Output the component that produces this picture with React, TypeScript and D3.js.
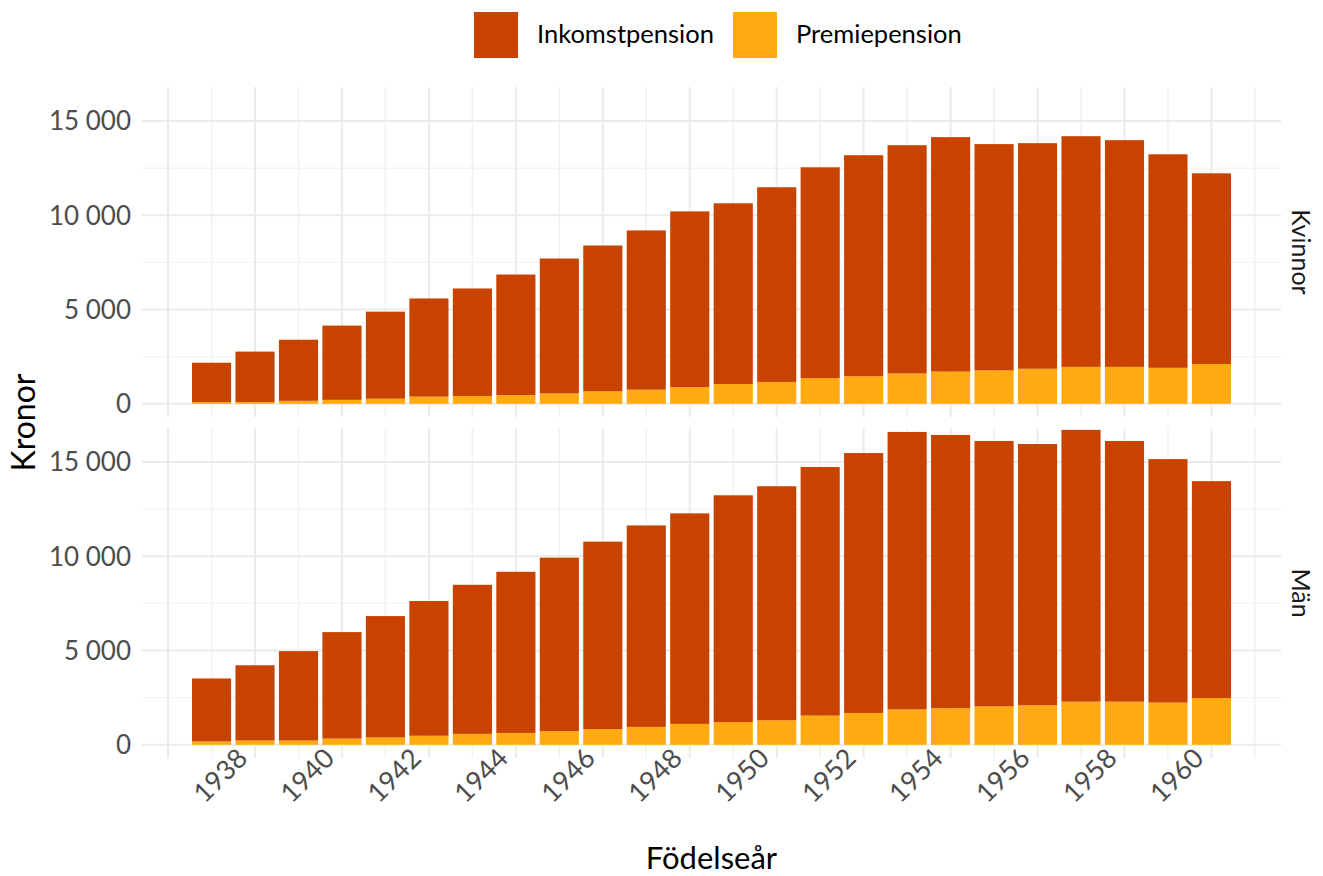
import React, { useEffect, useRef } from 'react';
import * as d3 from 'd3';

const years = [
  1937, 1938, 1939, 1940, 1941, 1942, 1943, 1944, 1945, 1946, 1947, 1948,
  1949, 1950, 1951, 1952, 1953, 1954, 1955, 1956, 1957, 1958, 1959, 1960,
];

const kvinnorPremie = [
  90, 90, 160, 210, 270, 380, 410, 460, 550, 660, 750, 890, 1050, 1160, 1360,
  1460, 1610, 1710, 1770, 1860, 1960, 1960, 1910, 2110,
];
const kvinnorInkomst = [
  2090, 2680, 3240, 3940, 4620, 5210, 5710, 6400, 7160, 7740, 8450, 9320,
  9590, 10330, 11190, 11730, 12110, 12440, 12010, 11970, 12240, 12030, 11330,
  10120,
];

const manPremie = [
  180, 230, 230, 330, 390, 480, 580, 630, 720, 830, 950, 1110, 1200, 1300,
  1550, 1690, 1880, 1940, 2040, 2100, 2290, 2290, 2240, 2480,
];
const manInkomst = [
  3340, 3990, 4740, 5650, 6440, 7150, 7910, 8550, 9210, 9950, 10690, 11170,
  12040, 12420, 13190, 13790, 14720, 14500, 14080, 13860, 14420, 13830, 12920,
  11510,
];

const panels = ['Kvinnor', 'Män'];
const seriesNames = ['Inkomstpension', 'Premiepension'];
const yTicks = [0, 5000, 10000, 15000];
const yMinor = [2500, 7500, 12500];
const xLabelYears = [1938, 1940, 1942, 1944, 1946, 1948, 1950, 1952, 1954, 1956, 1958, 1960];
const xGridYears = [
  1936, 1937, 1938, 1939, 1940, 1941, 1942, 1943, 1944, 1945, 1946, 1947, 1948,
  1949, 1950, 1951, 1952, 1953, 1954, 1955, 1956, 1957, 1958, 1959, 1960, 1961,
];

const colors: Record<string, string> = {
  Inkomstpension: '#c84200',
  Premiepension: '#ffaa11',
};

interface Row {
  year: number;
  Inkomstpension: number;
  Premiepension: number;
}

const FONT = 'Lato, sans-serif';

const App: React.FC = () => {
  const ref = useRef<SVGSVGElement | null>(null);

  useEffect(() => {
    if (!ref.current) return;
    const W = 1323;
    const H = 876;
    const left = 142;
    const right = 1281;
    const panelTop = [87, 428];
    const panelH = 330;

    const svg = d3.select(ref.current).attr('width', W).attr('height', H);
    svg.selectAll('*').remove();

    const x = d3.scaleLinear().domain([1935.4, 1961.6]).range([left, right]);
    const barW = (x(1938) - x(1937)) * 0.9;

    const dataSets: Row[][] = [
      years.map((y, i) => ({ year: y, Inkomstpension: kvinnorInkomst[i], Premiepension: kvinnorPremie[i] })),
      years.map((y, i) => ({ year: y, Inkomstpension: manInkomst[i], Premiepension: manPremie[i] })),
    ];

    const stack = d3.stack<Row>().keys(['Premiepension', 'Inkomstpension']);

    panels.forEach((name, p) => {
      const top = panelTop[p];
      const y = d3.scaleLinear().domain([-700, 16810]).range([top + panelH, top]);
      const g = svg.append('g');

      // grid
      g.selectAll('.ymin')
        .data(yMinor)
        .enter()
        .append('line')
        .attr('x1', left)
        .attr('x2', right)
        .attr('y1', (d) => y(d))
        .attr('y2', (d) => y(d))
        .attr('stroke', '#f3f3f3')
        .attr('stroke-width', 1.3);
      g.selectAll('.xg')
        .data(xGridYears)
        .enter()
        .append('line')
        .attr('x1', (d) => x(d))
        .attr('x2', (d) => x(d))
        .attr('y1', top)
        .attr('y2', top + panelH)
        .attr('stroke', (d) => (d % 2 === 0 ? '#ebebeb' : '#f1f1f1'))
        .attr('stroke-width', (d) => (d % 2 === 0 ? 2 : 1.5));
      g.selectAll('.ymaj')
        .data(yTicks)
        .enter()
        .append('line')
        .attr('x1', left)
        .attr('x2', right)
        .attr('y1', (d) => y(d))
        .attr('y2', (d) => y(d))
        .attr('stroke', '#ebebeb')
        .attr('stroke-width', 2);

      // y labels
      g.selectAll('.yl')
        .data(yTicks)
        .enter()
        .append('text')
        .attr('x', 131)
        .attr('y', (d) => y(d))
        .attr('dy', '0.36em')
        .attr('text-anchor', 'end')
        .attr('font-family', FONT)
        .attr('font-size', 26)
        .attr('fill', '#4d4d4d')
        .text((d) => d3.format(',')(d).replace(',', ' '));

      // bars
      const layers = stack(dataSets[p]);
      layers.forEach((layer) => {
        g.selectAll(null)
          .data(layer)
          .enter()
          .append('rect')
          .attr('x', (d) => x(d.data.year) - barW / 2)
          .attr('width', barW)
          .attr('y', (d) => y(d[1]))
          .attr('height', (d) => y(d[0]) - y(d[1]))
          .attr('fill', colors[layer.key]);
      });

      // strip label
      const cy = top + panelH / 2;
      g.append('text')
        .attr('transform', `translate(1301,${cy}) rotate(90)`)
        .attr('text-anchor', 'middle')
        .attr('dy', '0.35em')
        .attr('font-family', FONT)
        .attr('font-size', 25)
        .attr('fill', '#1a1a1a')
        .text(name);
    });

    // x labels
    svg
      .append('g')
      .selectAll('text')
      .data(xLabelYears)
      .enter()
      .append('text')
      .attr('transform', (d) => `translate(${x(d) - 6},${760}) rotate(-45)`)
      .attr('text-anchor', 'end')
      .attr('font-family', FONT)
      .attr('font-size', 27)
      .attr('fill', '#4d4d4d')
      .text((d) => d);

    // axis titles
    svg
      .append('text')
      .attr('x', (left + right) / 2)
      .attr('y', 869)
      .attr('text-anchor', 'middle')
      .attr('font-family', FONT)
      .attr('font-size', 31)
      .attr('fill', '#000')
      .text('Födelseår');
    svg
      .append('text')
      .attr('transform', `translate(35,${(87 + 758) / 2}) rotate(-90)`)
      .attr('text-anchor', 'middle')
      .attr('font-family', FONT)
      .attr('font-size', 32)
      .attr('fill', '#000')
      .text('Kronor');

    // legend
    const legX = [474, 733];
    seriesNames.forEach((s, i) => {
      svg
        .append('rect')
        .attr('x', legX[i])
        .attr('y', 12)
        .attr('width', 44)
        .attr('height', 46)
        .attr('fill', colors[s]);
      svg
        .append('text')
        .attr('x', legX[i] + 63)
        .attr('y', 43)
        .attr('font-family', FONT)
        .attr('font-size', 25.5)
        .attr('fill', '#000')
        .text(s);
    });
  }, []);

  return (
    <svg
      ref={ref}
      style={{ position: 'absolute', left: 0, top: 0, display: 'block', background: '#fff' }}
    ></svg>
  );
};

export default App;
